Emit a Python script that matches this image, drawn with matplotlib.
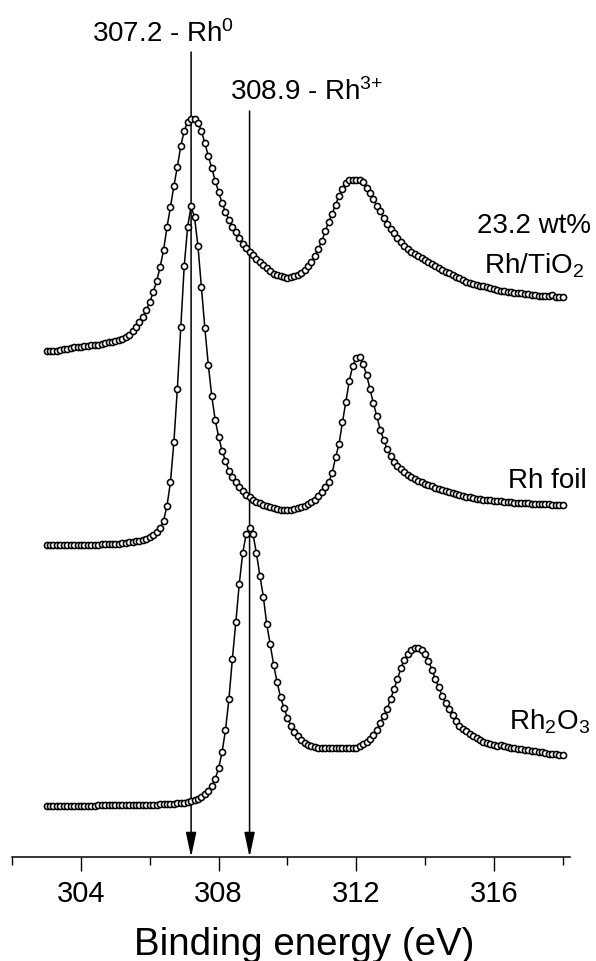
import numpy as np
import matplotlib
matplotlib.use('Agg')
import matplotlib.pyplot as plt
from matplotlib.ticker import MultipleLocator

plt.rcParams['font.family'] = ['Liberation Sans', 'DejaVu Sans']
plt.rcParams['mathtext.fontset'] = 'custom'
plt.rcParams['mathtext.rm'] = 'Liberation Sans'
plt.rcParams['mathtext.it'] = 'Liberation Sans:italic'
plt.rcParams['mathtext.default'] = 'regular'

# binding energy grid, 0.1 eV steps (303.0 ... 318.0)
energy = np.round(np.arange(303.0, 318.05, 0.1), 1)

# stacked intensities (arb. units)
rh_tio2 = [
    506.3, 506.5, 506.5, 506.5, 507, 508, 508.5, 509.5, 510, 510,
    510.5, 511, 511.5, 512.5, 512, 512.5, 513.5, 514, 515, 515.5,
    516, 517.5, 518.5, 520.5, 522.5, 526, 530.5, 535, 540, 547,
    555, 565, 576, 590, 607, 630, 650, 671, 690, 711,
    726, 735, 738.5, 738.5, 734, 726, 714, 701, 689, 676.3,
    665, 654, 645, 637, 630.5, 625, 619, 613, 609, 605.5,
    602, 598.5, 595.5, 592.5, 589.5, 586, 583.5, 582, 581, 580,
    579.5, 579.7, 581, 582.5, 584.5, 587.5, 591, 595, 601, 608,
    616, 626, 635, 643, 652.5, 661, 668, 674, 676.8, 677.2,
    677.3, 677, 675, 669, 664, 658, 651.3, 646, 639, 633,
    628, 624, 619.5, 615.3, 611.5, 608, 605, 603, 601, 599,
    597, 595, 593, 591.5, 589.5, 587.5, 585.5, 584, 582, 580.5,
    579, 577, 575.5, 574.5, 573.5, 572.5, 571.5, 570.7, 570, 569,
    568, 567.5, 566.5, 566, 565.3, 565, 564.5, 564, 563.7, 563,
    563, 562.5, 562, 561.5, 561, 560.7, 561.5, 562, 560.5, 560,
    559.7]

rh_foil = [
    312, 312, 312, 312, 312, 312, 312, 312, 312, 312,
    312.3, 312.3, 312.3, 312.3, 312.3, 312.3, 312.7, 312.7, 312.7, 312.7,
    312.7, 313.2, 313.7, 314.2, 314.7, 315.2, 315.7, 316.3, 317.2, 318.2,
    319.7, 322, 324.7, 328.7, 336.5, 351, 375, 415, 468, 530.3,
    590.7, 630.3, 650.7, 639.7, 610.7, 570.3, 529, 492.3, 461.3, 437.3,
    420.3, 406.3, 396.3, 386.3, 379.7, 374.7, 369.7, 365.7, 362.3, 359.7,
    357.5, 355.3, 354, 352.5, 351, 349.7, 348.8, 348, 347.5, 347,
    346.8, 347, 347.7, 348.7, 349.7, 350.7, 353.2, 354.7, 356.8, 360.7,
    365.3, 369.7, 374.7, 384, 399.7, 413, 434.7, 455.3, 476.3, 491.3,
    498.7, 499.7, 493, 482.3, 468, 453.7, 440.7, 427.3, 417, 408,
    401.3, 394.7, 390.7, 388.2, 385.5, 382.3, 380, 378, 376.3, 374.7,
    373.3, 372, 370.7, 369.3, 368, 366.8, 365.7, 364.7, 363.8, 363,
    362.1, 361.3, 360.5, 359.7, 359, 358.5, 358, 357.5, 357, 356.6,
    356.2, 355.9, 355.6, 355.3, 355, 354.7, 354.5, 354.2, 354, 353.8,
    353.6, 353.4, 353.2, 353, 352.9, 352.7, 352.6, 352.5, 352.3, 352.2,
    352]

rh2o3 = [
    51.3, 51.3, 51.3, 51.3, 51.3, 51.3, 51.3, 51.3, 51.3, 51.3,
    51.3, 51.3, 51.3, 51.3, 51.3, 51.7, 51.7, 51.7, 51.7, 51.7,
    51.7, 51.7, 51.7, 51.7, 51.7, 52, 52, 52, 52, 52,
    52, 52.3, 52.5, 52.7, 52.9, 53, 53.3, 53.5, 53.7, 54,
    54.4, 54.8, 55.7, 56.7, 58.2, 60.5, 63.5, 66.3, 71.3, 78,
    88.7, 104.7, 127, 158, 198, 234.7, 273, 303.7, 322.7, 328.7,
    322.7, 303.7, 281.3, 260.3, 232.7, 212.7, 192, 175, 159.7, 149,
    139.3, 131.5, 125.3, 121, 117.3, 114, 112, 111, 110.2, 108.7,
    109.5, 109, 109, 108.7, 108.7, 108.7, 108.7, 108.7, 108.7, 109,
    109.5, 111.3, 113, 115.5, 118, 122, 127.3, 133.7, 140.7, 148,
    158, 168, 178, 188.7, 197.3, 203, 207.3, 208.7, 209, 207.3,
    203, 196.3, 187.3, 178, 169.7, 161.3, 154, 148, 142, 136.3,
    131.3, 128.5, 126.3, 123, 120.7, 118.7, 117, 115.3, 114, 113,
    112, 111.3, 112, 110.7, 110, 109.3, 108.7, 108.2, 107.8, 107.3,
    106.8, 106.4, 106, 105.3, 104.7, 104, 103.5, 103, 102.7, 102.3,
    102]

peak_pos = [307.2, 308.9]
peak_lbl = [r'307.2 - Rh$^{0}$', r'308.9 - Rh$^{3{+}}$']

fig = plt.figure(figsize=(5.96, 9.62), dpi=100)
ax = fig.add_axes([12.2 / 596, 104 / 962, 557.3 / 596, 858 / 962])

for y in (rh_tio2, rh_foil, rh2o3):
    ax.plot(energy, y, '-o', color='k', lw=1.1, ms=4.4, mew=1.15,
            mfc='white', mec='k', zorder=3)

# reference lines with arrows
tops = [805, 746]
for e, top in zip(peak_pos, tops):
    ax.annotate('', xy=(e, 0), xytext=(e, top),
                arrowprops=dict(arrowstyle='-|>,head_length=1.5,head_width=0.32',
                                color='k', lw=1.1, shrinkA=0, shrinkB=0,
                                mutation_scale=10), zorder=2)
ax.text(304.32, 816.3, peak_lbl[0], fontsize=20, ha='left', va='baseline')
ax.text(308.33, 758, peak_lbl[1], fontsize=20, ha='left', va='baseline')

# sample labels
ax.text(317.17, 625, '23.2 wt%', fontsize=20, ha='center', va='baseline')
ax.text(317.17, 585, r'Rh/TiO$_2$', fontsize=20, ha='center', va='baseline')
ax.text(318.71, 370, 'Rh foil', fontsize=20, ha='right', va='baseline')
ax.text(318.8, 128, r'Rh$_2$O$_3$', fontsize=20, ha='right', va='baseline')

ax.set_xlim(302, 318.2)
ax.set_ylim(0, 858)
for s in ('left', 'right', 'top'):
    ax.spines[s].set_visible(False)
ax.spines['bottom'].set_linewidth(1.1)
ax.set_yticks([])
ax.xaxis.set_major_locator(MultipleLocator(4))
ax.xaxis.set_minor_locator(MultipleLocator(2))
ax.set_xticks([304, 308, 312, 316])
ax.tick_params(axis='x', which='major', direction='out', length=10, width=1,
               labelsize=21, pad=6)
ax.tick_params(axis='x', which='minor', direction='out', length=5.5, width=1)

fig.text(304 / 596, 1 - 955 / 962, 'Binding energy (eV)', fontsize=27.7,
         ha='center', va='baseline')

fig.savefig('out.png', dpi=100)
plt.close(fig)
